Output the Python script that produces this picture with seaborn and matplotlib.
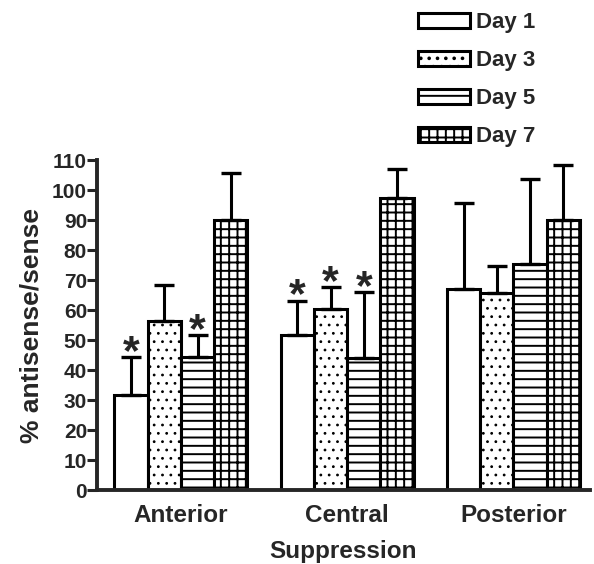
import matplotlib
matplotlib.use("Agg")
import matplotlib.pyplot as plt
import seaborn as sns
import pandas as pd
import numpy as np

# data
regions = ["Anterior", "Central", "Posterior"]
days = ["Day 1", "Day 3", "Day 5", "Day 7"]
means = {
    "Day 1": [31.6, 51.6, 67],
    "Day 3": [56.3, 60.5, 65.6],
    "Day 5": [44.4, 44, 75.4],
    "Day 7": [90, 97.5, 90],
}
errs = {
    "Day 1": [12.8, 11.6, 28.7],
    "Day 3": [12, 7.2, 9],
    "Day 5": [7.2, 22.1, 28.3],
    "Day 7": [15.6, 9.5, 18.5],
}
signif = {
    "Day 1": [True, True, False],
    "Day 3": [False, True, False],
    "Day 5": [True, True, False],
    "Day 7": [False, False, False],
}
hatches = ["", "..", "--", "++"]
hatch_lw = [1.0, 0.8, 1.4, 1.4]

rows = []
for d in days:
    for r, m in zip(regions, means[d]):
        rows.append({"region": r, "day": d, "value": m})
df = pd.DataFrame(rows)

sns.set_style("white")
plt.rcParams["font.family"] = ["Liberation Sans", "DejaVu Sans"]
plt.rcParams["font.weight"] = "bold"
plt.rcParams["hatch.linewidth"] = 1.4

fig = plt.figure(figsize=(5.94, 5.64), dpi=100)
ax = fig.add_axes([0.163, 0.131, 0.830, 0.585])

sns.barplot(data=df, x="region", y="value", hue="day", hue_order=days,
            order=regions, errorbar=None, width=0.8, ax=ax,
            palette=["white"] * 4, edgecolor="black", linewidth=2.2,
            legend=False, saturation=1)

bar_conts = list(ax.containers)
for cont, d, h, hl in zip(bar_conts, days, hatches, hatch_lw):
    xs, tops = [], []
    for bar, e, s in zip(cont.patches, errs[d], signif[d]):
        bar.set_hatch(h)
        if hasattr(bar, "set_hatch_linewidth"):
            bar.set_hatch_linewidth(hl)
        x = bar.get_x() + bar.get_width() / 2
        top = bar.get_height()
        xs.append(x)
        tops.append(top)
        if s:
            ax.annotate("*", xy=(x, top + e), xytext=(0, 3),
                        textcoords="offset points", ha="center", va="center",
                        fontsize=31, fontweight="bold")
    ax.errorbar(xs, tops, yerr=[np.zeros(len(xs)), errs[d]], fmt="none",
                ecolor="black", elinewidth=2.2, capsize=7, capthick=2.4,
                zorder=1)

ax.set_ylim(0, 110)
ax.set_xlim(-0.506, 2.46)
ax.set_yticks(range(0, 111, 10))
ax.tick_params(axis="y", direction="out", length=7, width=2.2, left=True,
               labelsize=15, pad=0)
ax.tick_params(axis="x", length=0, labelsize=17.5, pad=10)
for lab in ax.get_yticklabels() + ax.get_xticklabels():
    lab.set_fontweight("bold")

sns.despine(ax=ax, top=True, right=True)
ax.spines["left"].set_linewidth(2.8)
ax.spines["bottom"].set_linewidth(2.8)

ax.set_ylabel("% antisense/sense", fontsize=19, fontweight="bold", labelpad=6)
ax.set_xlabel("Suppression", fontsize=17.5, fontweight="bold", labelpad=9)

handles = [c.patches[0] for c in bar_conts]
fig.legend(handles, days, loc="upper left", bbox_to_anchor=(0.704, 0.978),
           frameon=False, handlelength=2.35, handleheight=0.68,
           labelspacing=0.76, handletextpad=0.25, borderpad=0,
           borderaxespad=0, prop={"weight": "bold", "size": 16})

fig.savefig("out.png", dpi=100)
